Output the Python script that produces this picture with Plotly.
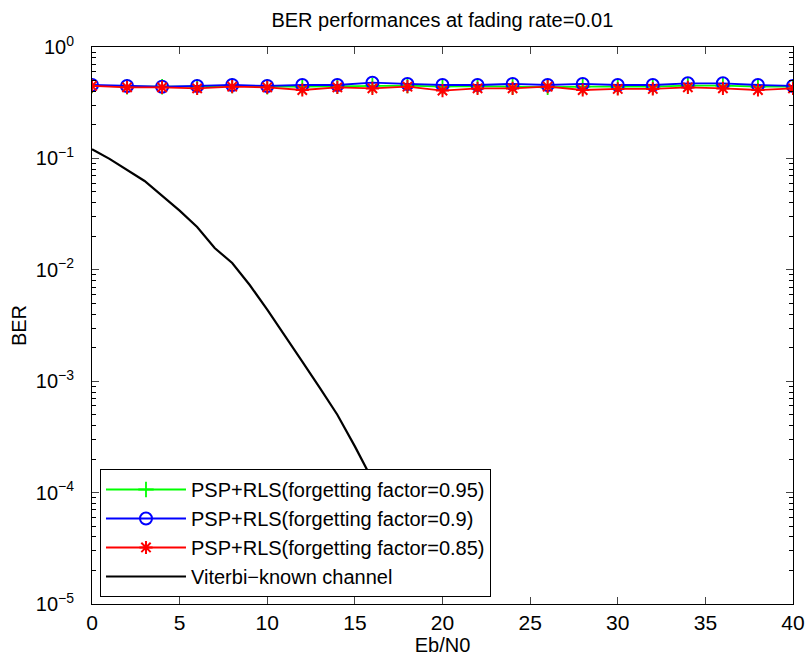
import plotly.graph_objects as go

# Data
snr_psp = [0, 2, 4, 6, 8, 10, 12, 14, 16, 18, 20, 22, 24, 26, 28, 30, 32, 34, 36, 38, 40]
ber_095 = [0.45, 0.44, 0.44, 0.44, 0.45, 0.44, 0.44, 0.445, 0.45, 0.45, 0.44, 0.445, 0.44,
           0.435, 0.44, 0.44, 0.44, 0.45, 0.45, 0.44, 0.44]
ber_090 = [0.456, 0.447, 0.44, 0.447, 0.456, 0.447, 0.456, 0.456, 0.478, 0.466, 0.456,
           0.456, 0.466, 0.456, 0.466, 0.456, 0.456, 0.472, 0.472, 0.456, 0.447]
ber_085 = [0.447, 0.434, 0.434, 0.425, 0.44, 0.434, 0.411, 0.434, 0.425, 0.44, 0.406,
           0.425, 0.425, 0.44, 0.411, 0.42, 0.42, 0.434, 0.425, 0.411, 0.425]

snr_vit = [0, 1, 3, 4, 5, 6, 7, 8, 9, 10, 11, 12, 13, 14, 15, 16, 17, 18]
ber_vit = [0.121, 0.099, 0.0627, 0.046, 0.034, 0.0242, 0.0157, 0.0115, 0.0073, 0.0044,
           0.0026, 0.0015, 0.00087, 0.0005, 0.00026, 0.00013, 0.00005, 0.000015]

xticks = [0, 5, 10, 15, 20, 25, 30, 35, 40]
ydecades = [1, 1e-1, 1e-2, 1e-3, 1e-4, 1e-5]
ytext = ["10<sup>0</sup>", "10<sup>\u22121</sup>", "10<sup>\u22122</sup>",
         "10<sup>\u22123</sup>", "10<sup>\u22124</sup>", "10<sup>\u22125</sup>"]
yminor = [m * d for d in [1e-5, 1e-4, 1e-3, 1e-2, 1e-1] for m in range(2, 10)]

FONT = "Liberation Sans"

fig = go.Figure()
fig.add_trace(go.Scatter(x=snr_psp, y=ber_095, mode="lines+markers",
                         name="PSP+RLS(forgetting factor=0.95)",
                         line=dict(color="#00ff00", width=1.8),
                         marker=dict(symbol="cross-thin-open", size=11,
                                     line=dict(color="#00ff00", width=1.8))))
fig.add_trace(go.Scatter(x=snr_psp, y=ber_090, mode="lines+markers",
                         name="PSP+RLS(forgetting factor=0.9)",
                         line=dict(color="#0000ff", width=1.8),
                         marker=dict(symbol="circle-open", size=12, color="#0000ff",
                                     line=dict(color="#0000ff", width=2))))
fig.add_trace(go.Scatter(x=snr_psp, y=ber_085, mode="lines+markers",
                         name="PSP+RLS(forgetting factor=0.85)",
                         line=dict(color="#ff0000", width=1.8),
                         marker=dict(symbol="asterisk-open", size=11,
                                     line=dict(color="#ff0000", width=2))))
fig.add_trace(go.Scatter(x=snr_vit, y=ber_vit, mode="lines",
                         name="Viterbi\u2212known channel",
                         line=dict(color="black", width=2.2)))

fig.update_layout(
    width=808, height=662,
    paper_bgcolor="white", plot_bgcolor="white",
    margin=dict(l=92, r=15, t=47, b=58),
    font=dict(family=FONT, size=20, color="black"),
    title=dict(text="BER performances at fading rate=0.01", x=0.5475, xanchor="center",
               y=0.981, yanchor="top", font=dict(size=20)),
    showlegend=True,
    legend=dict(x=0.0114, y=0.0126, xanchor="left", yanchor="bottom",
                bgcolor="white", bordercolor="black", borderwidth=1,
                font=dict(size=20), tracegroupgap=0, itemwidth=80),
)
fig.update_xaxes(range=[0, 40], tickvals=xticks, ticks="inside", ticklen=7,
                 showline=True, linecolor="black", linewidth=1, mirror="allticks",
                 showgrid=False, zeroline=False, automargin=False,
                 title=dict(text="Eb/N0", standoff=2, font=dict(size=20)),
                 tickfont=dict(size=21))
fig.update_yaxes(type="log", range=[-5, 0], tickvals=ydecades, ticktext=ytext,
                 ticks="inside", ticklen=7, ticklabelstandoff=13,
                 minor=dict(tickvals=yminor, ticks="inside", ticklen=4, tickcolor="black"),
                 showline=True, linecolor="black", linewidth=1, mirror="allticks",
                 showgrid=False, zeroline=False, automargin=False,
                 title=dict(text="BER", standoff=3, font=dict(size=20)),
                 tickfont=dict(size=20))

fig.write_html("out.html", config={"displayModeBar": False},
               post_script="document.body.style.margin='0px';")
